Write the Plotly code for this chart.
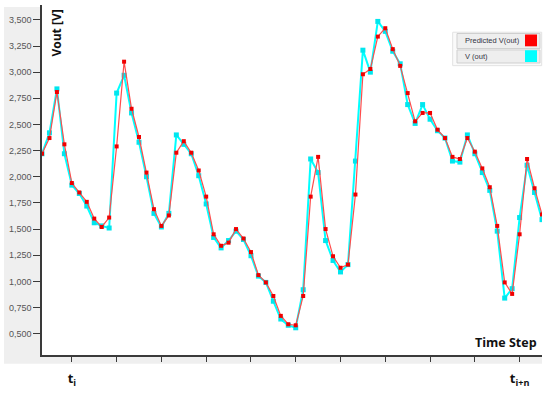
import plotly.graph_objects as go

steps = list(range(68))

v_out = [2.22, 2.42, 2.84, 2.22, 1.92, 1.84, 1.72, 1.56, 1.53, 1.51,
         2.80, 2.97, 2.61, 2.33, 2.00, 1.65, 1.52, 1.65, 2.40, 2.31,
         2.22, 2.01, 1.74, 1.42, 1.32, 1.39, 1.48, 1.40, 1.245, 1.05,
         0.99, 0.81, 0.64, 0.58, 0.556, 0.92, 2.17, 2.04, 1.39, 1.20,
         1.09, 1.16, 2.15, 3.21, 3.00, 3.485, 3.39, 3.20, 3.08, 2.69,
         2.51, 2.69, 2.55, 2.44, 2.37, 2.15, 2.14, 2.40, 2.22, 2.04,
         1.87, 1.48, 0.84, 0.93, 1.61, 2.11, 1.85, 1.59]

predicted = [2.22, 2.37, 2.81, 2.31, 1.94, 1.85, 1.76, 1.60, 1.52, 1.61,
             2.29, 3.10, 2.65, 2.38, 2.04, 1.69, 1.53, 1.63, 2.23, 2.34,
             2.23, 2.06, 1.81, 1.45, 1.34, 1.37, 1.50, 1.41, 1.28, 1.06,
             0.99, 0.86, 0.67, 0.59, 0.58, 0.86, 1.81, 2.19, 1.50, 1.24,
             1.13, 1.16, 1.83, 2.98, 3.03, 3.34, 3.42, 3.22, 3.06, 2.80,
             2.53, 2.61, 2.61, 2.45, 2.37, 2.19, 2.17, 2.37, 2.24, 2.08,
             1.90, 1.53, 0.99, 0.88, 1.45, 2.17, 1.89, 1.64]

y_tick_vals = [0.5, 0.75, 1.0, 1.25, 1.5, 1.75, 2.0, 2.25, 2.5, 2.75, 3.0, 3.25, 3.5]
y_tick_text = ["0,500", "0,750", "1,000", "1,250", "1,500", "1,750", "2,000",
               "2,250", "2,500", "2,750", "3,000", "3,250", "3,500"]

x_label_vals = [4, 64]
x_label_text = ["<b>t<sub>i</sub></b>", "<b>t<sub>i+n</sub></b>"]
x_minor_vals = [10, 16, 22, 28, 34, 40, 46, 52, 58]

legend_names = ["Predicted V(out)", "V (out)"]
legend_colors = ["#ff0000", "#00ffff"]

fig = go.Figure()
fig.add_trace(go.Scatter(
    x=steps, y=v_out, mode="lines+markers", name=legend_names[1],
    line=dict(color="#00ffff", width=2),
    marker=dict(symbol="square", size=5, color="#00e6ee"),
    showlegend=False))
fig.add_trace(go.Scatter(
    x=steps, y=predicted, mode="lines+markers", name=legend_names[0],
    line=dict(color="#ff4d4d", width=1.2),
    marker=dict(symbol="square", size=4, color="#f00000"),
    showlegend=False))

GRAY = "#efefef"
shapes = [
    dict(type="rect", xref="paper", yref="paper", x0=-0.076, x1=0, y0=-0.0253, y1=0.9944,
         fillcolor=GRAY, line=dict(width=0), layer="below"),
    dict(type="rect", xref="paper", yref="paper", x0=0, x1=1.0, y0=-0.0253, y1=0,
         fillcolor=GRAY, line=dict(width=0), layer="below"),
    # legend box
    dict(type="rect", xref="paper", yref="paper", x0=0.8214, x1=0.9994, y0=0.8267, y1=0.9222,
         fillcolor="#fafafa", line=dict(color="#e2e2e2", width=1)),
    dict(type="rect", xref="paper", yref="paper", x0=0.830, x1=0.996, y0=0.8756, y1=0.9185,
         fillcolor="#eeeeee", line=dict(color="#cfcfcf", width=1)),
    dict(type="rect", xref="paper", yref="paper", x0=0.830, x1=0.996, y0=0.8343, y1=0.8716,
         fillcolor="#eeeeee", line=dict(color="#cfcfcf", width=1)),
    dict(type="rect", xref="paper", yref="paper", x0=0.966, x1=0.990, y0=0.882, y1=0.9157,
         fillcolor=legend_colors[0], line=dict(width=0)),
    dict(type="rect", xref="paper", yref="paper", x0=0.966, x1=0.990, y0=0.8371, y1=0.8708,
         fillcolor=legend_colors[1], line=dict(width=0)),
]

annotations = [
    dict(text=legend_names[0], xref="paper", yref="paper", x=0.842, y=0.8989,
         xanchor="left", yanchor="middle", showarrow=False,
         font=dict(family="Liberation Sans", size=7.5, color="#333344")),
    dict(text=legend_names[1], xref="paper", yref="paper", x=0.842, y=0.8539,
         xanchor="left", yanchor="middle", showarrow=False,
         font=dict(family="Liberation Sans", size=7.5, color="#333344")),
    dict(text="<b>Vout [V]</b>", xref="paper", yref="paper", x=0.03, y=0.9185,
         xanchor="center", yanchor="middle", textangle=-90, showarrow=False,
         font=dict(family="Open Sans", size=12, color="#111111")),
    dict(text="<b>Time Step</b>", xref="paper", yref="paper", x=0.993, y=0.0365,
         xanchor="right", yanchor="middle", showarrow=False,
         font=dict(family="Open Sans", size=12.5, color="#111111")),
]

fig.update_layout(
    width=550, height=394,
    margin=dict(l=42, r=8, t=5, b=33),
    paper_bgcolor="white", plot_bgcolor="white",
    shapes=shapes, annotations=annotations,
    hovermode=False,
    xaxis=dict(range=[0, 67], showgrid=False, zeroline=False,
               showline=True, linecolor="#3a3a3a", linewidth=1.5,
               ticks="outside", ticklen=5, tickwidth=1, tickcolor="#3a3a3a",
               tickvals=x_label_vals, ticktext=x_label_text, ticklabelstandoff=6,
               minor=dict(tickvals=x_minor_vals, ticks="outside", ticklen=5,
                          tickwidth=1, tickcolor="#3a3a3a", showgrid=False),
               tickfont=dict(family="Open Sans", size=13, color="#111111")),
    yaxis=dict(range=[0.296, 3.642], showgrid=False, zeroline=False,
               showline=True, linecolor="#3a3a3a", linewidth=1.5,
               ticks="outside", ticklen=7, tickwidth=1, tickcolor="#3a3a3a",
               tickvals=y_tick_vals, ticktext=y_tick_text,
               tickfont=dict(family="Liberation Sans", size=9, color="#555555")),
)

fig.write_html("out.html", config={"displayModeBar": False},
               post_script="document.body.style.margin='0px';")
